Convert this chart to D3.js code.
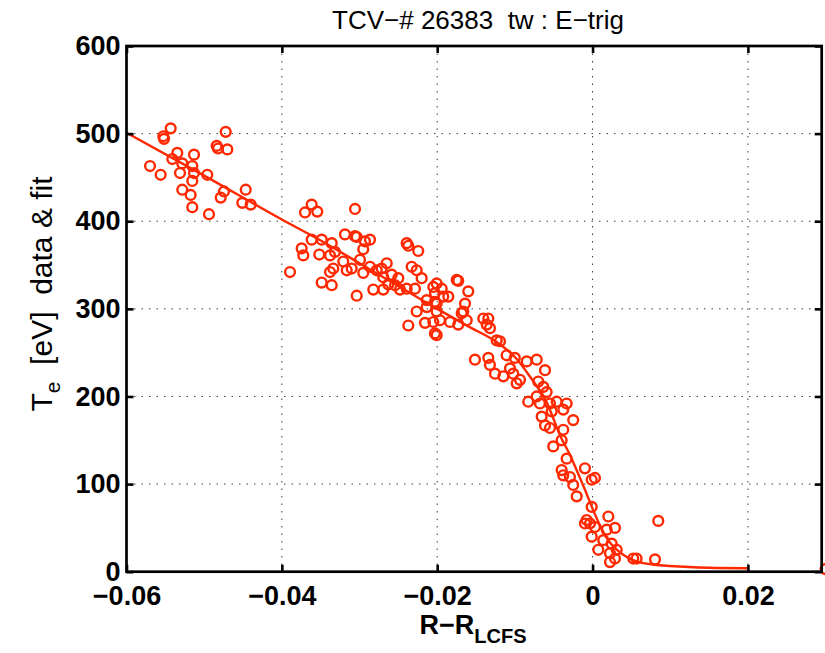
<!DOCTYPE html>
<html>
<head>
<meta charset="utf-8">
<script src="https://cdn.jsdelivr.net/npm/d3@7"></script>
<style>
  body { margin: 0; background: #fff; }
  text { font-family: "Liberation Sans", Arial, Helvetica, sans-serif; }
</style>
</head>
<body>
<svg id="chart" width="825" height="653"></svg>
<script>
// Axis ticks
const xTickValues = [-0.06, -0.04, -0.02, 0, 0.02];
const xTickLabels = ["\u22120.06", "\u22120.04", "\u22120.02", "0", "0.02"];
const yTickValues = [0, 100, 200, 300, 400, 500, 600];
const yTickLabels = ["0", "100", "200", "300", "400", "500", "600"];

// Thomson scattering measurements: R - R_LCFS [m] and Te [eV]
const measR = [
  -0.05697, -0.05560, -0.05517, -0.05526, -0.05431, -0.05346, -0.05410, -0.05282, -0.05311, -0.05131,
  -0.05153, -0.05131, -0.05153, -0.05282, -0.05174, -0.05153, -0.04960, -0.04938, -0.04839, -0.04822,
  -0.04702, -0.04723, -0.04745, -0.04787, -0.04465, -0.04509, -0.04401,
  -0.03895, -0.03702, -0.03616, -0.03544, -0.03058, -0.03745, -0.03724, -0.03616, -0.03487, -0.03518,
  -0.03358, -0.03316, -0.03380, -0.03187, -0.03036, -0.02930, -0.02865, -0.02952, -0.02994, -0.03209,
  -0.03338, -0.03380, -0.03487, -0.03358, -0.03165, -0.03101, -0.02952, -0.03036, -0.02865, -0.02779,
  -0.02715, -0.02650, -0.02694, -0.02586, -0.02630, -0.02694, -0.02501, -0.02543, -0.02823, -0.02479,
  -0.02393, -0.02372, -0.02244, -0.02329, -0.02264, -0.02200, -0.02393, -0.02286, -0.02372, -0.02264,
  -0.02135, -0.02050, -0.02007, -0.01942, -0.02029, -0.01922, -0.01857, -0.02007, -0.02135, -0.01749,
  -0.03058, -0.02157, -0.02029,
  -0.01729, -0.01600, -0.01642, -0.01664, -0.02029, -0.02007, -0.02050, -0.01964, -0.01835, -0.01729,
  -0.01620, -0.02007, -0.01407, -0.01342, -0.01363, -0.01321, -0.01685, -0.01234, -0.01192, -0.01106,
  -0.01514, -0.01342, -0.01321, -0.01256, -0.01149, -0.01063, -0.01001, -0.01021, -0.00977, -0.00934,
  -0.00848, -0.00719, -0.00612, -0.00699, -0.00634, -0.00591, -0.00828, -0.00719, -0.00677, -0.00548,
  -0.00462, -0.00333,
  -0.00377, -0.00526, -0.00655, -0.00612, -0.00548, -0.00249, -0.00377, -0.00506, -0.00398, -0.00333,
  -0.00398, -0.00377, -0.00291, -0.00249, -0.00098, -0.00011, 0.00031, -0.00204, -0.00011, -0.00076,
  -0.00033, -0.00098, 0.00203, 0.00031, 0.00182, 0.00289, -0.00011, 0.00138, 0.00246, 0.00074,
  0.00224, 0.00311, 0.00289, 0.00224, 0.00524, 0.00567, 0.00846, 0.00804, 0.03000
];
const measTe = [
  463, 453, 494, 497, 506, 478, 471, 466, 455, 476,
  463, 455, 446, 436, 430, 416, 453, 408, 486, 483,
  482, 502, 434, 427, 436, 421, 419,
  342, 410, 419, 411, 414, 369, 361, 379, 379, 362,
  375, 365, 361, 385, 382, 377, 379, 368, 356, 354,
  346, 342, 330, 327, 344, 346, 341, 315, 348, 344,
  346, 352, 336, 339, 328, 322, 335, 327, 322, 322,
  375, 372, 366, 348, 344, 335, 323, 323, 281, 297,
  310, 325, 329, 323, 318, 314, 314, 306, 302, 333,
  383, 284, 272,
  332, 320, 306, 297, 308, 297, 285, 287, 285, 282,
  287, 270, 289, 289, 282, 278, 295, 264, 263, 247,
  242, 244, 236, 226, 223, 232, 244, 226, 215, 219,
  240, 242, 230, 217, 211, 205, 194, 200, 192, 192,
  194, 192,
  185, 183, 177, 167, 164, 173, 162, 143, 150, 129,
  116, 110, 108, 99, 118, 105, 107, 86, 74, 59,
  55, 55, 63, 51, 48, 50, 40, 36, 32, 25,
  21, 25, 15, 11, 15, 15, 58, 14, 3
];

// Fitted profile
const fitR = [-0.06, -0.05, -0.04, -0.035, -0.03, -0.025, -0.02, -0.016, -0.012, -0.010, -0.008,
  -0.006, -0.004, -0.003, -0.002, -0.001, 0, 0.001, 0.002, 0.003, 0.004, 0.005, 0.006, 0.008,
  0.010, 0.015, 0.020];
const fitTe = [501, 452, 402, 378, 352, 326, 300, 280, 260, 245, 222,
  195, 152, 135, 115, 94, 72, 52, 36, 26, 19, 14, 11, 8,
  6.5, 4.5, 4];

const plot = { left: 126.5, right: 821.7, top: 46, bottom: 571.7 };
const red = "#ff2800";

const svg = d3.select("#chart");
const x = d3.scaleLinear().domain([-0.06, 0.0295]).range([plot.left, plot.right]);
const y = d3.scaleLinear().domain([0, 600]).range([plot.bottom, plot.top]);

// dotted grid
const grid = svg.append("g").attr("stroke", "#000").attr("stroke-width", 1)
  .attr("stroke-dasharray", "1.5,6").attr("opacity", 0.75);
grid.selectAll("line.gx").data(xTickValues.filter(v => v > -0.06)).join("line")
  .attr("x1", d => x(d)).attr("x2", d => x(d))
  .attr("y1", plot.top).attr("y2", plot.bottom);
grid.selectAll("line.gy").data(yTickValues.filter(v => v > 0 && v < 600)).join("line")
  .attr("x1", plot.left).attr("x2", plot.right)
  .attr("y1", d => y(d)).attr("y2", d => y(d));

// fit curve
svg.append("path")
  .datum(fitR.map((r, i) => [r, fitTe[i]]))
  .attr("fill", "none").attr("stroke", red).attr("stroke-width", 2.4)
  .attr("d", d3.line().x(d => x(d[0])).y(d => y(d[1])).curve(d3.curveMonotoneX));

// measurements
svg.append("g").selectAll("circle")
  .data(measR.map((r, i) => [r, measTe[i]]))
  .join("circle")
  .attr("cx", d => x(d[0])).attr("cy", d => y(d[1])).attr("r", 4.9)
  .attr("fill", "none").attr("stroke", red).attr("stroke-width", 2.4);

// axes
const tickLen = 7;
const axB = svg.append("g").attr("transform", `translate(0,${plot.bottom})`)
  .call(d3.axisBottom(x).tickValues(xTickValues).tickFormat((d, i) => xTickLabels[i])
    .tickSizeInner(-tickLen).tickSizeOuter(0).tickPadding(14));
const axL = svg.append("g").attr("transform", `translate(${plot.left},0)`)
  .call(d3.axisLeft(y).tickValues(yTickValues).tickFormat((d, i) => yTickLabels[i])
    .tickSizeInner(-tickLen).tickSizeOuter(0).tickPadding(6));
const axT = svg.append("g").attr("transform", `translate(0,${plot.top})`)
  .call(d3.axisTop(x).tickValues(xTickValues).tickFormat("").tickSizeInner(-tickLen).tickSizeOuter(0));
const axR = svg.append("g").attr("transform", `translate(${plot.right},0)`)
  .call(d3.axisRight(y).tickValues(yTickValues).tickFormat("").tickSizeInner(-tickLen).tickSizeOuter(0));

[axB, axL, axT, axR].forEach(a => {
  a.select(".domain").remove();
  a.selectAll(".tick line").attr("stroke", "#000").attr("stroke-width", 2.6);
  a.selectAll(".tick text").attr("fill", "#000").attr("font-size", 27).attr("font-weight", "bold")
    .style("font-family", "'Liberation Sans', Arial, sans-serif");
});

// box
svg.append("rect")
  .attr("x", plot.left).attr("y", plot.top)
  .attr("width", plot.right - plot.left).attr("height", plot.bottom - plot.top)
  .attr("fill", "none").attr("stroke", "#000").attr("stroke-width", 2.7);

// title
svg.append("text")
  .attr("x", 478).attr("y", 29)
  .attr("text-anchor", "middle").attr("font-size", 26)
  .style("white-space", "pre")
  .text("TCV\u2212# 26383  tw : E\u2212trig");

// y label
const yl = svg.append("text")
  .attr("transform", `translate(52,294) rotate(-90)`)
  .attr("text-anchor", "middle").attr("font-size", 30)
  .style("white-space", "pre");
yl.append("tspan").text("T");
yl.append("tspan").attr("font-size", 21).attr("dy", 8).text("e");
yl.append("tspan").attr("dy", -8).text("  [eV]  data & fit");

// x label
const xl = svg.append("text")
  .attr("x", 473).attr("y", 634)
  .attr("text-anchor", "middle").attr("font-size", 27).attr("font-weight", "bold");
xl.append("tspan").text("R\u2212R");
xl.append("tspan").attr("font-size", 20).attr("dy", 9).text("LCFS");
</script>
</body>
</html>
